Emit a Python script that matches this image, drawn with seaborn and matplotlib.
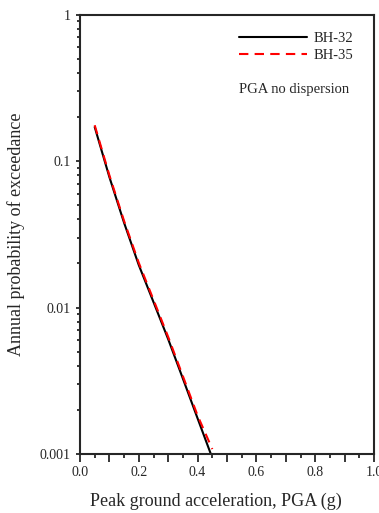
import numpy as np
import pandas as pd
import matplotlib
matplotlib.use("Agg")
import matplotlib.pyplot as plt
import matplotlib.ticker as mticker
import seaborn as sns

# data
pga_bh32 = [0.05, 0.10, 0.15, 0.20, 0.25, 0.30, 0.35, 0.40, 0.445]
prob_bh32 = [0.171, 0.0778, 0.0379, 0.0195, 0.0109, 0.00608, 0.00327, 0.00175, 0.00100]
pga_bh35 = [0.05, 0.10, 0.15, 0.20, 0.25, 0.30, 0.35, 0.40, 0.450]
prob_bh35 = [0.176, 0.0800, 0.0390, 0.0202, 0.0113, 0.00630, 0.00340, 0.00183, 0.00108]
x_ticks = [0.0, 0.2, 0.4, 0.6, 0.8, 1.0]
y_ticks = [0.001, 0.01, 0.1, 1]
y_labels = ["0.001", "0.01", "0.1", "1"]

df = pd.concat([
    pd.DataFrame({"pga": pga_bh32, "prob": prob_bh32, "site": "BH-32"}),
    pd.DataFrame({"pga": pga_bh35, "prob": prob_bh35, "site": "BH-35"}),
])

sns.set_style("ticks")
plt.rcParams["font.family"] = ["Liberation Serif", "DejaVu Serif"]

fig = plt.figure(figsize=(3.79, 5.13), dpi=100)
ax = fig.add_axes([80 / 379, 1 - 454 / 513, 294 / 379, (454 - 14.7) / 513])

sns.lineplot(data=df, x="pga", y="prob", hue="site", style="site",
             palette={"BH-32": "black", "BH-35": "red"},
             dashes={"BH-32": "", "BH-35": (4.5, 3)},
             linewidth=1.5, ax=ax, sort=False, estimator=None)

ax.set_yscale("log")
ax.set_xlim(0, 1.0)
ax.set_ylim(0.001, 1)

ax.xaxis.set_major_locator(mticker.MultipleLocator(0.1))
ax.xaxis.set_minor_locator(mticker.MultipleLocator(0.05))
ax.xaxis.set_major_formatter(mticker.FuncFormatter(
    lambda v, p: f"{v:.1f}" if any(abs(v - t) < 1e-6 for t in x_ticks) else ""))
ax.set_yticks(y_ticks)
ax.set_yticklabels(y_labels)
ax.yaxis.set_minor_locator(mticker.LogLocator(base=10, subs=np.arange(2, 10)))
ax.yaxis.set_minor_formatter(mticker.NullFormatter())

ax.tick_params(axis="x", which="major", direction="out", length=6, width=1.3, labelsize=10, pad=3)
ax.tick_params(axis="x", which="minor", direction="out", length=3, width=1.3)
ax.tick_params(axis="y", which="major", direction="out", length=3.2, width=1.3, labelsize=10, pad=3.5)
ax.tick_params(axis="y", which="minor", direction="out", length=2, width=1.3)

for s in ax.spines.values():
    s.set_linewidth(1.5)
    s.set_visible(True)

ax.set_xlabel("Peak ground acceleration, PGA (g)", fontsize=13)
ax.set_ylabel("Annual probability of exceedance", fontsize=13)
ax.xaxis.set_label_coords(0.462, -0.088)
ax.yaxis.set_label_coords(-0.187, 0.5)

ax.legend(loc="upper left", bbox_to_anchor=(0.541, 0.961), borderaxespad=0, borderpad=0,
          frameon=False, fontsize=10.5, handlelength=4.65, handletextpad=0.48,
          labelspacing=0.25)
ax.text(0.541, 0.829, "PGA no dispersion", transform=ax.transAxes,
        fontsize=10.5, va="center", ha="left")

fig.savefig("out.png", dpi=100)
